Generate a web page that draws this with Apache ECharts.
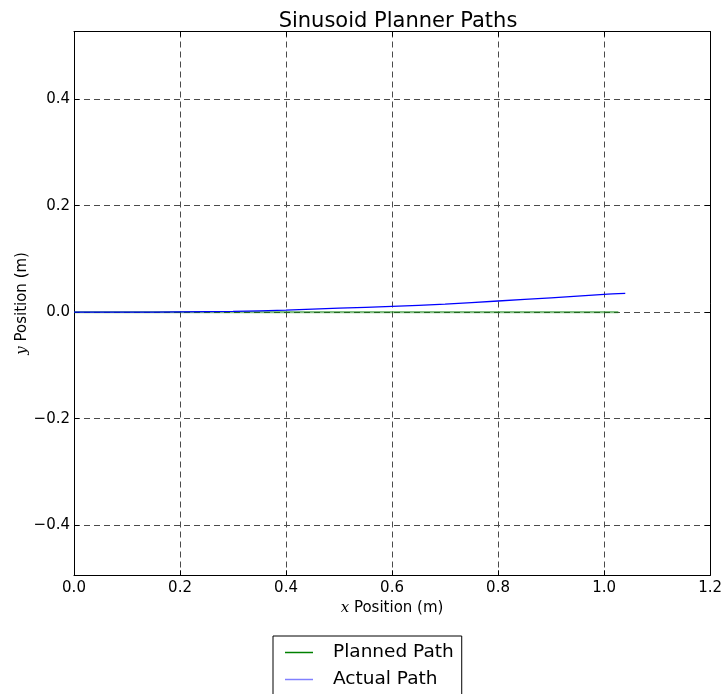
<!DOCTYPE html>
<html>
<head>
<meta charset="utf-8">
<style>
  html, body { margin: 0; padding: 0; background: #fff; }
  #chart { width: 725px; height: 694px; }
</style>
<script src="https://cdn.jsdelivr.net/npm/echarts@6/dist/echarts.min.js"></script>
</head>
<body>
<div id="chart"></div>
<script>
// Path samples (x, y in metres)
const plannedX = [0.0, 0.2, 0.4, 0.6, 0.8, 1.0, 1.027];
const plannedY = [0.0, 0.0, 0.0, 0.0, 0.0, 0.0, 0.0];
const actualX = [0.0, 0.1, 0.2, 0.3, 0.4, 0.5, 0.6, 0.7, 0.8, 0.9, 1.0, 1.04];
const actualY = [0.0, 0.0, 0.0005, 0.0015, 0.004, 0.0075, 0.011, 0.015, 0.021, 0.027, 0.0335, 0.0355];

const xTicks = [0.0, 0.2, 0.4, 0.6, 0.8, 1.0, 1.2];
const yTicks = [-0.4, -0.2, 0.0, 0.2, 0.4];
const xRange = [0.0, 1.2];
const yRange = [-0.494, 0.527];

const seriesNames = ['Planned Path', 'Actual Path'];

const FONT = 'DejaVu Sans';
const fmt = v => v.toFixed(1).replace('-', '\u2212');
const gridDash = { color: '#4a4a4a', width: 1, type: [6, 4] };

const pair = (xs, ys) => xs.map((x, i) => [x, ys[i]]);

const chart = echarts.init(document.getElementById('chart'), null, { renderer: 'canvas' });

chart.setOption({
  animation: false,
  backgroundColor: '#ffffff',
  title: {
    text: 'Sinusoid Planner Paths',
    left: 393, top: 6,
    textAlign: 'center',
    textStyle: { fontFamily: FONT, fontSize: 21, fontWeight: 'normal', color: '#000' }
  },
  grid: { left: 74, top: 31.5, right: 12, bottom: 118.7, containLabel: false },
  legend: {
    orient: 'vertical',
    left: 273, top: 636, height: 150,
    padding: [7, 8, 40, 12],
    itemGap: 8,
    itemWidth: 28, itemHeight: 1.5,
    borderColor: '#000', borderWidth: 1,
    textStyle: { fontFamily: FONT, fontSize: 18.5, color: '#000', padding: [0, 0, 0, 15] },
    data: [
      { name: seriesNames[0], icon: 'rect', itemStyle: { color: '#008000' } },
      { name: seriesNames[1], icon: 'rect', itemStyle: { color: '#8080ff' } }
    ]
  },
  xAxis: [{
    type: 'value', min: xRange[0], max: xRange[1], interval: 0.2,
    name: '{i|x} Position (m)',
    nameLocation: 'middle', nameGap: 25, nameMoveOverlap: false,
    nameTextStyle: {
      fontFamily: FONT, fontSize: 15, color: '#000',
      rich: { i: { fontFamily: 'DejaVu Serif', fontStyle: 'italic', fontSize: 15, color: '#000' } }
    },
    axisLine: { show: true, onZero: false, lineStyle: { color: '#000', width: 1 } },
    axisTick: { show: true, inside: true, length: 5, lineStyle: { color: '#000' } },
    axisLabel: { fontFamily: FONT, fontSize: 15, color: '#000', margin: 5, formatter: fmt },
    splitLine: { show: true, lineStyle: gridDash }
  }, {
    type: 'value', position: 'top', min: xRange[0], max: xRange[1], interval: 0.2,
    axisLine: { show: true, onZero: false, lineStyle: { color: '#000', width: 1 } },
    axisTick: { show: true, inside: true, length: 5, lineStyle: { color: '#000' } },
    axisLabel: { show: false },
    splitLine: { show: false }
  }],
  yAxis: [{
    type: 'value', min: yRange[0], max: yRange[1],
    name: '{i|y} Position (m)',
    nameLocation: 'middle', nameGap: 44, nameRotate: 90, nameMoveOverlap: false,
    nameTextStyle: {
      fontFamily: FONT, fontSize: 15, color: '#000',
      rich: { i: { fontFamily: 'DejaVu Serif', fontStyle: 'italic', fontSize: 15, color: '#000' } }
    },
    axisLine: { show: true, onZero: false, lineStyle: { color: '#000', width: 1 } },
    axisTick: { show: true, inside: true, length: 5, customValues: yTicks, lineStyle: { color: '#000' } },
    axisLabel: { fontFamily: FONT, fontSize: 15, color: '#000', margin: 4, customValues: yTicks, formatter: fmt },
    splitLine: { show: true, customValues: yTicks, lineStyle: gridDash }
  }, {
    type: 'value', position: 'right', min: yRange[0], max: yRange[1],
    axisLine: { show: true, onZero: false, lineStyle: { color: '#000', width: 1 } },
    axisTick: { show: true, inside: true, length: 5, customValues: yTicks, lineStyle: { color: '#000' } },
    axisLabel: { show: false, customValues: yTicks },
    splitLine: { show: false }
  }],
  series: [{
    name: seriesNames[0],
    type: 'line',
    data: pair(plannedX, plannedY),
    symbol: 'none',
    lineStyle: { color: '#008000', width: 2.2, opacity: 0.5 },
    itemStyle: { color: '#008000' },
    z: 3
  }, {
    name: seriesNames[1],
    type: 'line',
    data: pair(actualX, actualY),
    symbol: 'none',
    smooth: 0.3,
    lineStyle: { color: '#0000ff', width: 1.3 },
    itemStyle: { color: '#8080ff' },
    z: 4
  }]
});
</script>
</body>
</html>
